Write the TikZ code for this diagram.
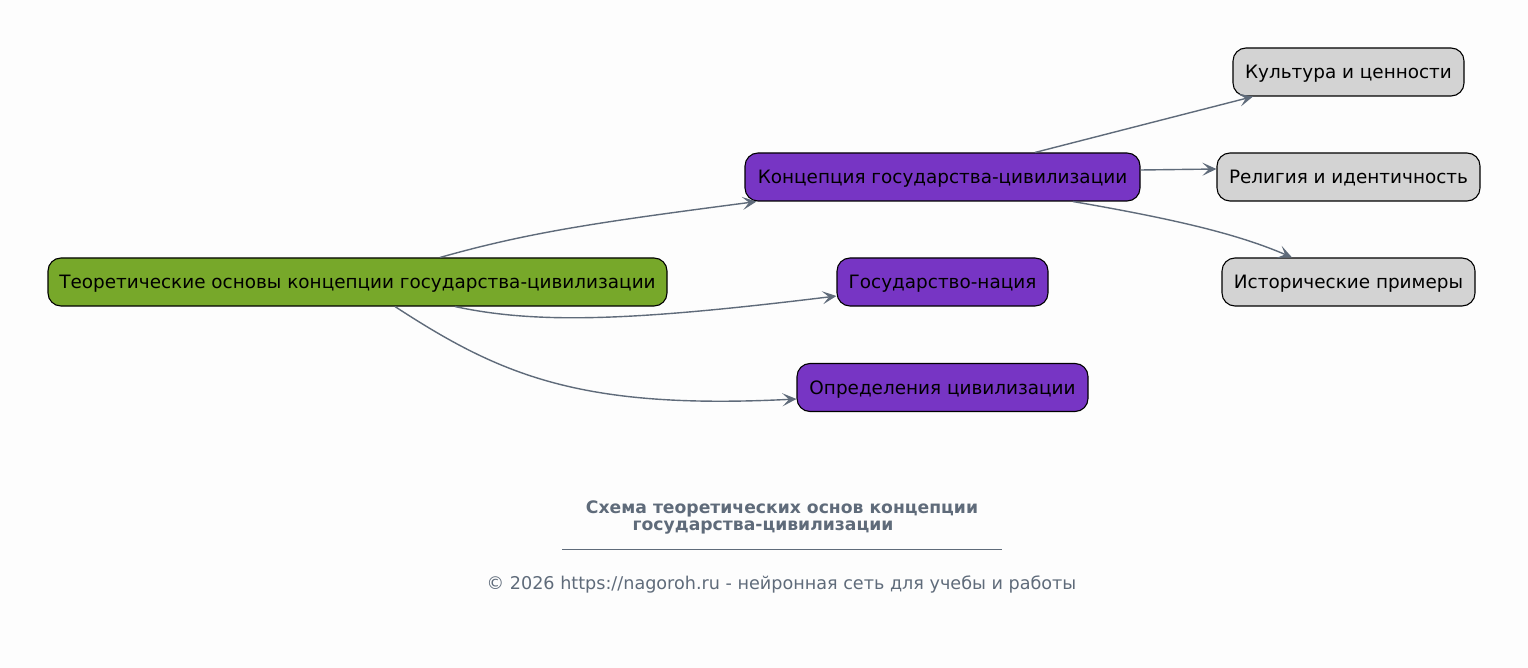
\documentclass[tikz,border=0pt]{standalone}
\usepackage{fontspec}
\setmainfont{DejaVu Sans}
\usetikzlibrary{arrows.meta}
\definecolor{bgc}{HTML}{FDFDFD}
\definecolor{edgec}{HTML}{5F6B7A}
\definecolor{rootc}{HTML}{77A82A}
\definecolor{purp}{HTML}{7735C4}
\definecolor{grayc}{HTML}{D3D3D3}
\tikzset{
  box/.style={draw=black, line width=1.1pt, rounded corners=13pt, inner sep=0pt, font=\fontsize{18.4}{22}\selectfont, text=black, text depth=0pt},
  rootbox/.style={box, fill=rootc},
  purpbox/.style={box, fill=purp},
  graybox/.style={box, fill=grayc},
  veetip/.tip={Stealth[length=14pt,width=13pt,inset=6.5pt]},
  conn/.style={draw=edgec, line width=1.4pt, -veetip},
}
\begin{document}
\begin{tikzpicture}[x=1pt,y=-1pt]
\useasboundingbox[fill=bgc] (0,0) rectangle (1528,668);
\node[rootbox, minimum width=619pt, minimum height=48pt] (root) at (357.5,282) {Теоретические основы концепции государства-цивилизации};
\node[purpbox, minimum width=395pt, minimum height=48pt] (konc) at (942.5,177) {Концепция государства-цивилизации};
\node[purpbox, minimum width=211pt, minimum height=48pt] (gos) at (942.5,282) {Государство-нация};
\node[purpbox, minimum width=291pt, minimum height=48pt] (opr) at (942.5,387.5) {Определения цивилизации};
\node[graybox, minimum width=231pt, minimum height=48pt] (kult) at (1348.5,72) {Культура и ценности};
\node[graybox, minimum width=263pt, minimum height=48pt] (rel) at (1348.5,177) {Религия и идентичность};
\node[graybox, minimum width=253pt, minimum height=48pt] (ist) at (1348.5,282) {Исторические примеры};

\draw[conn] ([xshift=82.5pt]root.north) .. controls (530,232) and (600,222) .. ([xshift=12pt]konc.south west);
\draw[conn] ([xshift=97.5pt]root.south) .. controls (540,325) and (640,320) .. ([yshift=-14pt]gos.west);
\draw[conn] ([xshift=37.5pt]root.south) .. controls (500,375) and (580,410) .. ([yshift=-11.5pt]opr.west);
\draw[conn] ([xshift=92.5pt]konc.north) -- ([xshift=-95.5pt]kult.south);
\draw[conn] ([yshift=7pt]konc.east) -- ([yshift=8pt]rel.west);
\draw[conn] ([xshift=130.5pt]konc.south) .. controls (1180,220) and (1240,235) .. ([xshift=-56.5pt]ist.north);

\node[font=\fontsize{17.2}{17}\selectfont\bfseries, text=edgec, align=center] (title) at (782,517) {Схема теоретических основ концепции\\государства-цивилизации\rule{38pt}{0pt}};
\node[text=edgec, inner sep=0pt] (rule) at (782,549) {\rule{440pt}{0.8pt}};
\node[font=\fontsize{17.6}{20}\selectfont, text=edgec] (foot) at (781.5,584) {© 2026 https://nagoroh.ru - нейронная сеть для учебы и работы};
\end{tikzpicture}
\end{document}
